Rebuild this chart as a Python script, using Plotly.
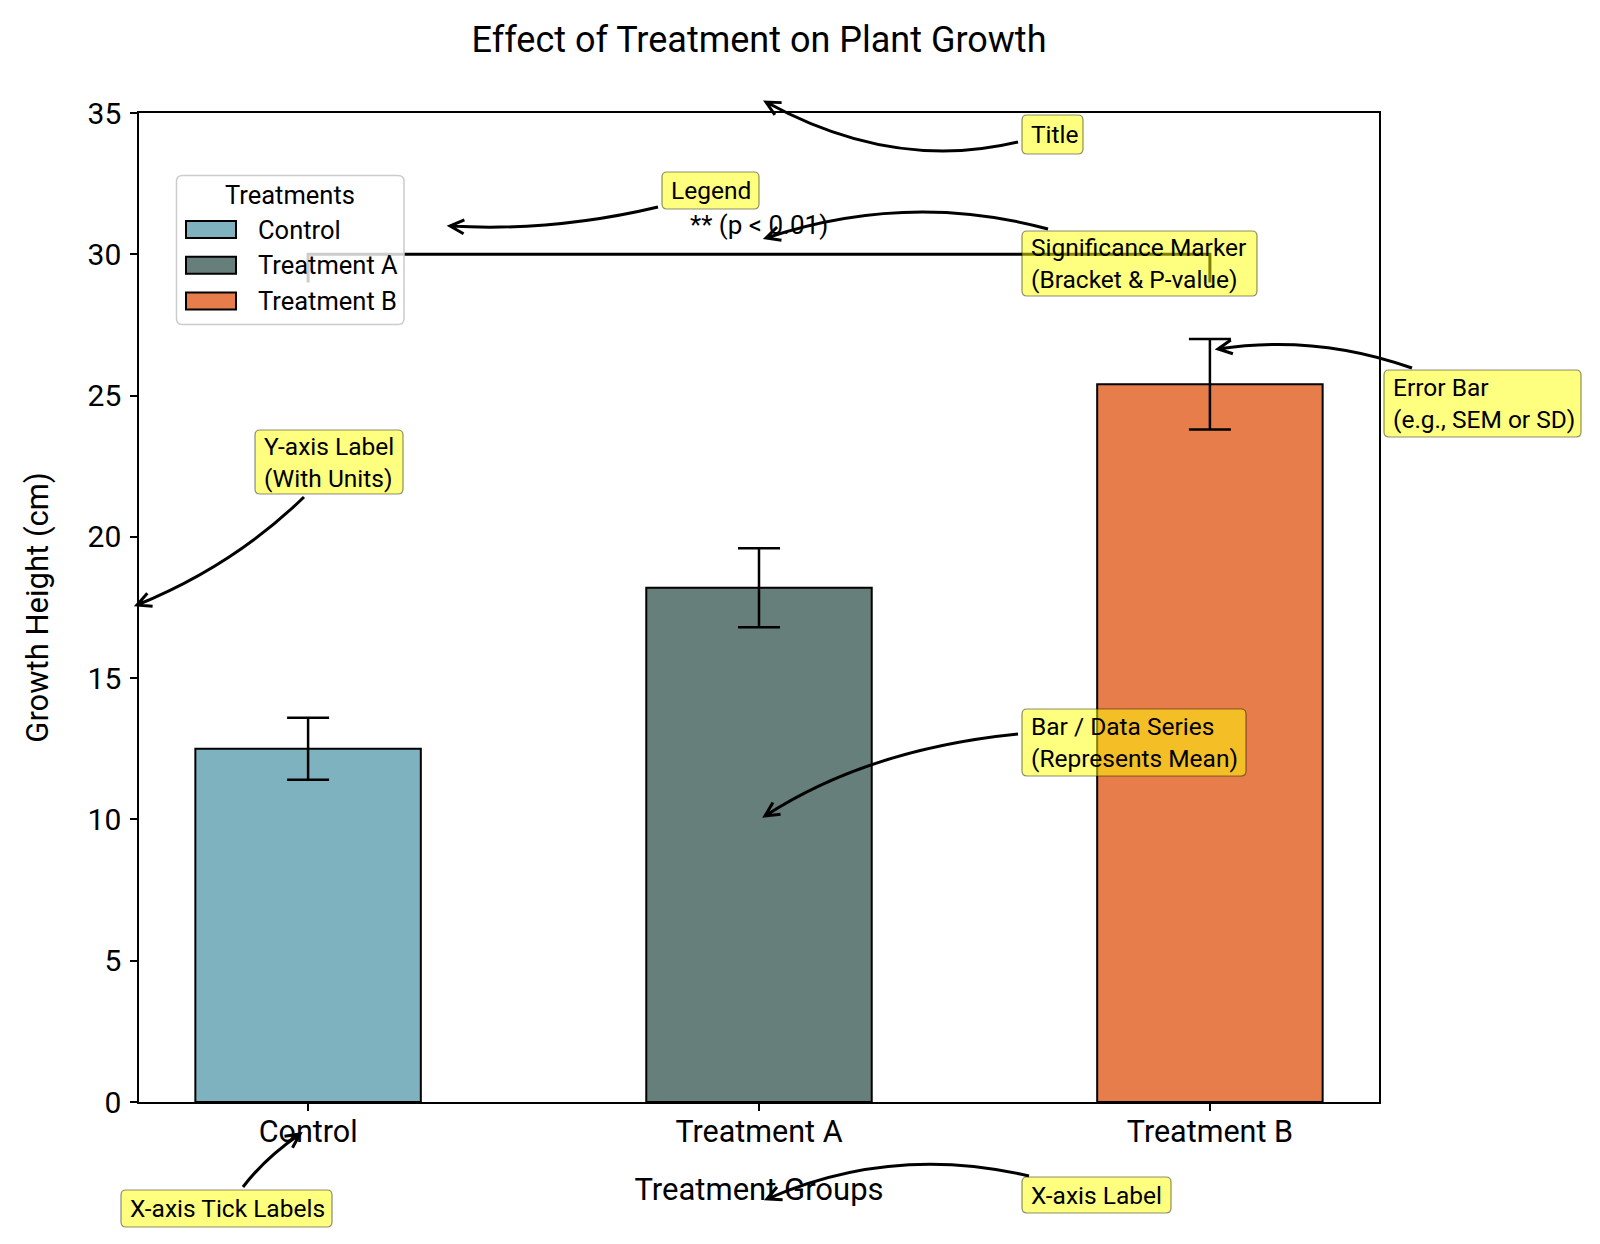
import math
import plotly.graph_objects as go

# --- data -------------------------------------------------------------
groups = ["Control", "Treatment A", "Treatment B"]
mean_height = [12.5, 18.2, 25.4]
err_height = [1.1, 1.4, 1.6]
bar_colors = ["#7FB2BF", "#667F7B", "#E87D4C"]

# significance bracket between Control and Treatment B
bracket_x = [groups[0], groups[0], groups[2], groups[2]]
bracket_y = [29, 30, 30, 29]
sig_label = "** (p < 0.01)"

y_ticks = [0, 5, 10, 15, 20, 25, 30, 35]

FONT = "Roboto"
PAGE = 8                      # body margin of the html page
W, H = 1600 - 2 * PAGE, 1244 - 2 * PAGE
L, R, T, B = 139, 1379, 113, 1102  # plot area in page pixels


def px(x):
    return (x - L) / (R - L)


def py(y):
    return (B - y) / (B - T)


def pt(p):
    return f"{px(p[0]):.5f},{py(p[1]):.5f}"


def arrow_path(p0, c, p2, head=14, half=7):
    """Curved arrow (quadratic curve) with an open '->' head, pixel coords in."""
    ux, uy = c[0] - p2[0], c[1] - p2[1]
    n = math.hypot(ux, uy)
    ux, uy = ux / n, uy / n
    a = (p2[0] + head * ux - half * uy, p2[1] + head * uy + half * ux)
    b = (p2[0] + head * ux + half * uy, p2[1] + head * uy - half * ux)
    return f"M{pt(p0)} Q{pt(c)} {pt(p2)} M{pt(a)} L{pt(p2)} L{pt(b)}"


def rounded_box(x0, y0, x1, y1, r):
    return (f"M{pt((x0 + r, y0))} L{pt((x1 - r, y0))} Q{pt((x1, y0))} {pt((x1, y0 + r))} "
            f"L{pt((x1, y1 - r))} Q{pt((x1, y1))} {pt((x1 - r, y1))} "
            f"L{pt((x0 + r, y1))} Q{pt((x0, y1))} {pt((x0, y1 - r))} "
            f"L{pt((x0, y0 + r))} Q{pt((x0, y0))} {pt((x0 + r, y0))} Z")


def label(x, y, text, size, xanchor="left"):
    return dict(x=px(x), y=py(y), xref="paper", yref="paper", text=text, showarrow=False,
                xanchor=xanchor, yanchor="middle", align="left",
                font=dict(family=FONT, size=size, color="black"))


fig = go.Figure()

fig.add_trace(go.Bar(
    x=groups, y=mean_height, width=0.5,
    marker=dict(color=bar_colors, line=dict(color="black", width=2)),
    error_y=dict(type="data", array=err_height, color="black", thickness=2.5, width=21),
    showlegend=False,
))

fig.add_trace(go.Scatter(
    x=bracket_x, y=bracket_y, mode="lines",
    line=dict(color="black", width=3), showlegend=False, hoverinfo="skip",
))

annotations = [dict(
    x=groups[1], y=30.45, xref="x", yref="y", text=sig_label, showarrow=False,
    yanchor="bottom", font=dict(family=FONT, size=26, color="black"),
)]
shapes = []

# --- hand-drawn legend (wide patches like the original) -----------------
shapes.append(dict(type="path", xref="paper", yref="paper", layer="above",
                   path=rounded_box(176.5, 175.5, 404, 324.5, 6),
                   fillcolor="rgba(255,255,255,0.8)", line=dict(color="#CCCCCC", width=1.5)))
annotations.append(label(290, 195, "Treatments", 25.5, "center"))
for i, (name, col) in enumerate(zip(groups, bar_colors)):
    cy = 229.6 + i * 35.7
    shapes.append(dict(type="rect", xref="paper", yref="paper", layer="above",
                       x0=px(186), x1=px(236), y0=py(cy - 8.5), y1=py(cy + 8.5),
                       fillcolor=col, line=dict(color="black", width=2)))
    annotations.append(label(256, cy, name, 25.5))

# --- callouts: text, box (x0, y0, x1, y1), arrow start, control, tip --------
callouts = [
    ("Title", (1022, 115, 1083, 154), (1018, 142), (893, 172), (766, 102)),
    ("Legend", (662, 172, 759, 209), (658, 207), (553, 232), (450, 226)),
    ("Significance Marker<br>(Bracket & P-value)", (1022, 231, 1257, 296),
     (1048, 229), (908, 191), (766, 238)),
    ("Error Bar<br>(e.g., SEM or SD)", (1384, 370, 1581, 437), (1412, 368), (1316, 334), (1218, 349)),
    ("Y-axis Label<br>(With Units)", (255, 430, 403, 494), (304, 497), (233, 566), (137, 605)),
    ("Bar / Data Series<br>(Represents Mean)", (1022, 709, 1246, 776),
     (1018, 734), (868, 749), (765, 816)),
    ("X-axis Tick Labels", (121, 1190, 332, 1227), (243, 1187), (264, 1159), (300, 1134)),
    ("X-axis Label", (1022, 1177, 1171, 1213), (1029, 1176), (892, 1144), (767, 1199)),
]
for text, (x0, y0, x1, y1), p0, c, p2 in callouts:
    shapes.append(dict(type="path", xref="paper", yref="paper", layer="above",
                       path=arrow_path(p0, c, p2), line=dict(color="black", width=3)))
    shapes.append(dict(type="path", xref="paper", yref="paper", layer="above",
                       path=rounded_box(x0, y0, x1, y1, 5),
                       fillcolor="rgba(255,255,0,0.5)", line=dict(color="rgba(0,0,0,0.45)", width=1.2)))
    annotations.append(label(x0 + 7, (y0 + y1) / 2, text, 24.5))

fig.update_layout(
    width=W, height=H, autosize=False,
    margin=dict(l=L - PAGE, r=W + PAGE - R, t=T - PAGE, b=H + PAGE - B),
    paper_bgcolor="white", plot_bgcolor="white",
    font=dict(family=FONT, color="black"),
    title=dict(text="Effect of Treatment on Plant Growth", x=0.5, xref="paper",
               y=1 - (39 - PAGE) / H, yanchor="middle",
               font=dict(family=FONT, size=36, color="black")),
    xaxis=dict(
        type="category", range=[-0.375, 2.375],
        showline=True, linecolor="black", linewidth=1.5, mirror=True,
        ticks="outside", ticklen=7, tickwidth=1.5, tickcolor="black",
        ticklabelstandoff=-5,
        tickfont=dict(family=FONT, size=30.5, color="black"),
        showgrid=False, zeroline=False,
        title=dict(text="Treatment Groups", standoff=30, font=dict(family=FONT, size=31, color="black")),
    ),
    yaxis=dict(
        range=[0, 35], tickvals=y_ticks,
        showline=True, linecolor="black", linewidth=1.5, mirror=True,
        ticks="outside", ticklen=7, tickwidth=1.5, tickcolor="black",
        ticklabelstandoff=3,
        tickfont=dict(family=FONT, size=30, color="black"),
        showgrid=False, zeroline=False,
        title=dict(text="Growth Height (cm)", standoff=30, font=dict(family=FONT, size=31, color="black")),
    ),
    shapes=shapes,
    annotations=annotations,
)

fig.write_html("out.html")
